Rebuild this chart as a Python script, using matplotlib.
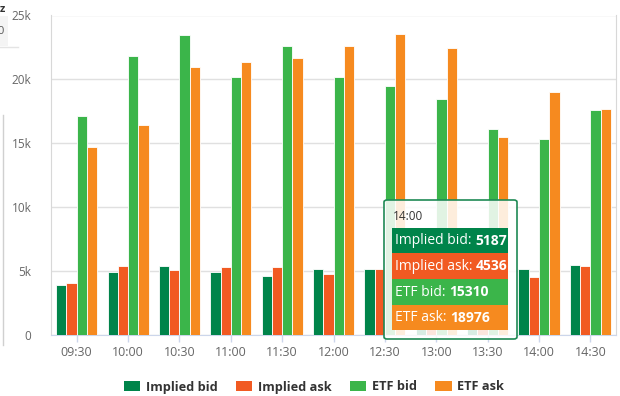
import matplotlib.pyplot as plt
import numpy as np
from matplotlib.patches import Patch, FancyBboxPatch, Rectangle
from matplotlib.lines import Line2D
from matplotlib.text import Annotation

plt.rcParams['font.family'] = ['Open Sans', 'DejaVu Sans']

# time slots and the four series
times = ["09:30", "10:00", "10:30", "11:00", "11:30", "12:00",
         "12:30", "13:00", "13:30", "14:00", "14:30"]
implied_bid = [3890, 4930, 5400, 4930, 4590, 5140, 5150, 5100, 5000, 5187, 5470]
implied_ask = [4050, 5400, 5090, 5320, 5320, 4770, 5180, 5000, 4800, 4536, 5400]
etf_bid = [17100, 21800, 23450, 20200, 22640, 20200, 19460, 18440, 16150, 15310, 17580]
etf_ask = [14690, 16410, 21000, 21400, 21670, 22640, 23550, 22480, 15500, 18976, 17660]

names = ["Implied bid", "Implied ask", "ETF bid", "ETF ask"]
series = [implied_bid, implied_ask, etf_bid, etf_ask]
colors = ["#00844a", "#f15a22", "#3bb54a", "#f68a1f"]

# slot shown in the hover box
hover = times.index("14:00")

W, H = 620, 396
fig = plt.figure(figsize=(W / 100, H / 100), dpi=100)
ax = fig.add_axes([51 / W, (H - 335) / H, 565 / W, 319.5 / H])

x = np.arange(len(times))
bw = 0.2
for i, (vals, c) in enumerate(zip(series, colors)):
    ax.bar(x + (i - 1.5) * bw, vals, bw, color=c, edgecolor="white",
           linewidth=0.6, zorder=3)

ax.set_xlim(-0.5, len(times) - 0.5)
ax.set_ylim(0, 25000)
ax.set_yticks(range(0, 25001, 5000))
ax.set_yticklabels(["0", "5k", "10k", "15k", "20k", "25k"])
ax.set_xticks(x)
ax.set_xticklabels(times)
ax.grid(axis="y", color="#e0e0e0", linewidth=1, zorder=0)
ax.tick_params(axis="y", length=0, pad=14, labelsize=8.5, labelcolor="#666666")
ax.tick_params(axis="x", length=5, width=1, color="#ccd6eb", pad=3,
               labelsize=9, labelcolor="#666666")
ax.spines["top"].set_visible(False)
ax.spines["left"].set_color("#d8d8d8")
ax.spines["right"].set_color("#d8d8d8")
ax.spines["bottom"].set_color("#ccd6eb")


def px(xp, yp):
    return xp / W, 1 - yp / H


# hover box
x0, y0 = px(384, 339)
x1, y1 = px(517, 200)
fig.add_artist(FancyBboxPatch((x0, y0), x1 - x0, y1 - y0,
                              boxstyle="round,pad=0,rounding_size=0.005",
                              transform=fig.transFigure, facecolor="white",
                              alpha=0.85, edgecolor="none", zorder=10))
fig.add_artist(FancyBboxPatch((x0, y0), x1 - x0, y1 - y0,
                              boxstyle="round,pad=0,rounding_size=0.005",
                              transform=fig.transFigure, facecolor="none",
                              edgecolor="#1f8a55", linewidth=1.2, zorder=11))
fig.text(*px(393, 217), times[hover], fontsize=8.5, color="#333333",
         va="center", ha="left", zorder=12)

row_edges = [228, 253, 279, 305, 330]
for i, (name, vals, c) in enumerate(zip(names, series, colors)):
    rx0, ry0 = px(392, row_edges[i + 1])
    rx1, ry1 = px(508, row_edges[i])
    fig.add_artist(Rectangle((rx0, ry0), rx1 - rx0, ry1 - ry0,
                             transform=fig.transFigure, facecolor=c,
                             edgecolor="none", zorder=12))
    yc = (row_edges[i] + row_edges[i + 1]) / 2
    lab = fig.text(*px(395, yc), name + ": ", fontsize=10, color="white",
                   va="center", ha="left", zorder=13)
    num = Annotation(f"{vals[hover]:g}", xy=(1, 0.5), xycoords=lab,
                     fontsize=10, fontweight="bold", color="white",
                     va="center", ha="left", annotation_clip=False)
    num.set_zorder(13)
    fig.add_artist(num)

# legend
handles = [Patch(facecolor=c, edgecolor="none") for c in colors]
leg = fig.legend(handles, names, loc="center",
                 bbox_to_anchor=(314 / W, 1 - 387 / H),
                 ncol=4, frameon=False, handlelength=1.3, handleheight=0.9,
                 handletextpad=0.45, columnspacing=1.4,
                 prop={"weight": "bold", "size": 9.2})
for t in leg.get_texts():
    t.set_color("#333333")

# edge of the neighbouring panel
fig.add_artist(Rectangle((0, 1 - 46 / H), 8 / W, 30 / H,
                         transform=fig.transFigure, facecolor="#f4f4f4",
                         edgecolor="none"))
fig.add_artist(Line2D([3 / W, 3 / W], [1 - 345 / H, 1 - 115 / H],
                      transform=fig.transFigure, color="#d0d0d0", linewidth=1))
fig.add_artist(Line2D([0, 18 / W], [1 - 47 / H, 1 - 47 / H],
                      transform=fig.transFigure, color="#e4e4e4", linewidth=1))
fig.text(*px(0, 9), "z", fontsize=8, fontweight="bold", color="#333333",
         va="center", ha="left")
fig.text(*px(-2, 31), "0", fontsize=8, color="#555555", va="center", ha="left")

fig.savefig("out.png", dpi=100)
